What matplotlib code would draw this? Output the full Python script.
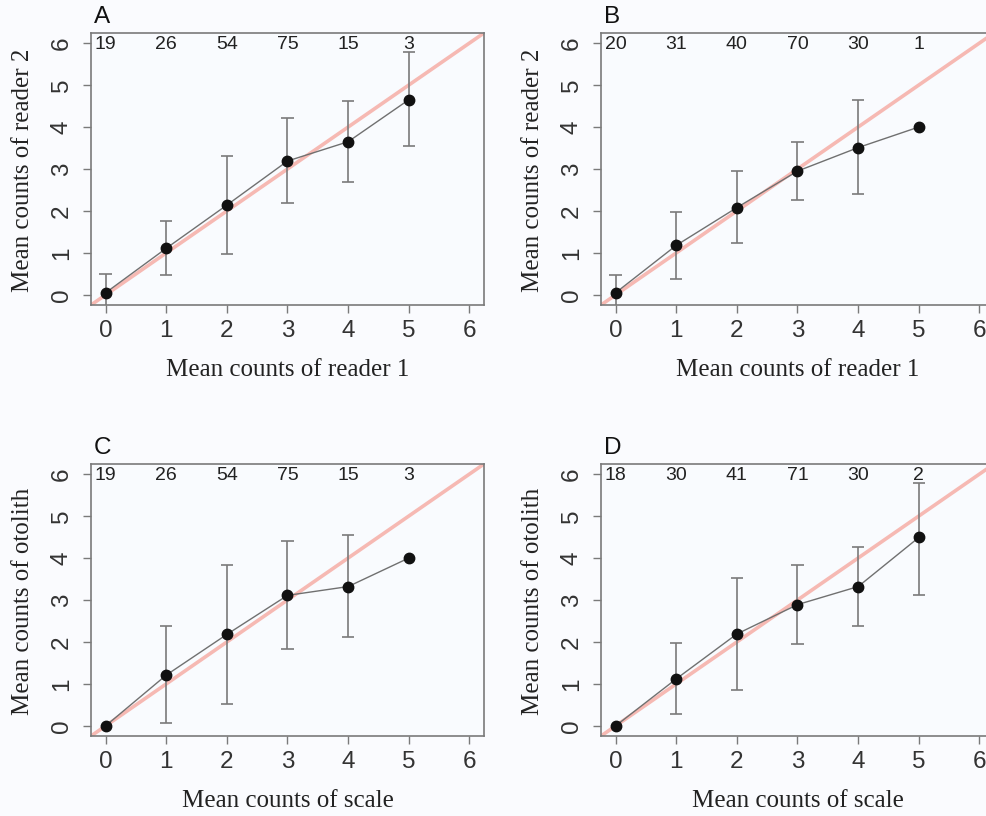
import numpy as np
import matplotlib
matplotlib.use("Agg")
import matplotlib.pyplot as plt

x_vals = [0, 1, 2, 3, 4, 5]
ticks = [0, 1, 2, 3, 4, 5, 6]

panel_letters = ["A", "B", "C", "D"]
x_labels = ["Mean counts of reader 1", "Mean counts of reader 1",
            "Mean counts of scale", "Mean counts of scale"]
y_labels = ["Mean counts of reader 2", "Mean counts of reader 2",
            "Mean counts of otolith", "Mean counts of otolith"]

counts_A = [19, 26, 54, 75, 15, 3]
counts_B = [20, 31, 40, 70, 30, 1]
counts_C = [19, 26, 54, 75, 15, 3]
counts_D = [18, 30, 41, 71, 30, 2]

mean_A = [0.05, 1.11, 2.14, 3.19, 3.65, 4.65]
low_A = [-0.38, 0.47, 0.98, 2.18, 2.70, 3.54]
high_A = [0.49, 1.75, 3.31, 4.21, 4.61, 5.79]

mean_B = [0.05, 1.18, 2.08, 2.95, 3.51, 4.00]
low_B = [-0.38, 0.39, 1.23, 2.26, 2.41, np.nan]
high_B = [0.48, 1.98, 2.96, 3.65, 4.64, np.nan]

mean_C = [0.00, 1.21, 2.18, 3.11, 3.32, 4.00]
low_C = [np.nan, 0.08, 0.52, 1.83, 2.12, np.nan]
high_C = [np.nan, 2.38, 3.84, 4.40, 4.54, np.nan]

mean_D = [0.00, 1.12, 2.19, 2.89, 3.32, 4.49]
low_D = [np.nan, 0.28, 0.85, 1.95, 2.39, 3.11]
high_D = [np.nan, 1.98, 3.52, 3.84, 4.26, 5.79]

panels = [
    (counts_A, mean_A, low_A, high_A),
    (counts_B, mean_B, low_B, high_B),
    (counts_C, mean_C, low_C, high_C),
    (counts_D, mean_D, low_D, high_D),
]

W, H = 986, 816
fig = plt.figure(figsize=(W / 100, H / 100), dpi=100, facecolor="#fafbfe")

ax_w = 393 / W
ax_h = 272 / H
positions = [
    (91 / W, 1 - 305 / H),
    (601 / W, 1 - 305 / H),
    (91 / W, 1 - 736 / H),
    (601 / W, 1 - 736 / H),
]

sans = "Liberation Sans"
serif = "Liberation Serif"
grey = "#7a7a7a"

for i, (pos, (cnt, mean, lo, hi)) in enumerate(zip(positions, panels)):
    ax = fig.add_axes([pos[0], pos[1], ax_w, ax_h])
    ax.set_facecolor("#f9fbfe")
    ax.set_xlim(-0.24, 6.24)
    ax.set_ylim(-0.24, 6.24)
    # 1:1 line
    ax.plot([-0.5, 6.5], [-0.5, 6.5], color="#f6b9b3", lw=2.6, zorder=1)
    # error bars
    xs = np.array(x_vals, dtype=float)
    lo_a = np.array(lo, dtype=float)
    hi_a = np.array(hi, dtype=float)
    m = ~np.isnan(lo_a)
    ax.vlines(xs[m], lo_a[m], hi_a[m], color=grey, lw=1.2, zorder=2)
    ax.hlines(hi_a[m], xs[m] - 0.1, xs[m] + 0.1, color=grey, lw=1.2, zorder=2)
    ax.hlines(lo_a[m], xs[m] - 0.1, xs[m] + 0.1, color=grey, lw=1.2, zorder=2)
    # mean line and points
    ax.plot(x_vals, mean, color="#707070", lw=1.0, zorder=3)
    ax.plot(x_vals, mean, "o", color="#111111", ms=7.5, zorder=4)
    # counts
    for xv, c in zip(x_vals, cnt):
        ax.text(xv, 5.97, str(c), ha="center", va="center",
                fontsize=14, family=sans, color="#222222")
    ax.set_xticks(ticks)
    ax.set_yticks(ticks)
    ax.set_xticklabels([str(t) for t in ticks], family=sans, fontsize=17.5, color="#333333")
    ax.set_yticklabels([str(t) for t in ticks], family=sans, fontsize=17.5, color="#333333",
                       rotation=90, va="center")
    ax.tick_params(axis="both", direction="out", length=6, width=1.0, color=grey)
    ax.tick_params(axis="x", pad=5)
    ax.tick_params(axis="y", pad=7)
    for sp in ax.spines.values():
        sp.set_color(grey)
        sp.set_linewidth(1.2)
    ax.set_xlabel(x_labels[i], family=serif, fontsize=18, color="#222222", va="center")
    ax.xaxis.set_label_coords(0.5, -0.239)
    ax.set_ylabel(y_labels[i], family=serif, fontsize=18, color="#222222", va="center")
    ax.yaxis.set_label_coords(-0.173, 0.496)
    ax.text(0.008, 1.057, panel_letters[i], transform=ax.transAxes, ha="left",
            va="center", fontsize=17.5, family=sans, color="#111111")

fig.savefig("out.png", dpi=100, facecolor=fig.get_facecolor())
